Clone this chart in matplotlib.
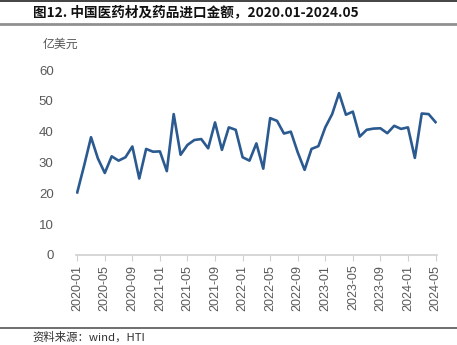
import matplotlib.pyplot as plt
from matplotlib.lines import Line2D

plt.rcParams['font.family'] = ['Noto Sans CJK SC', 'DejaVu Sans']

# 月份标签 2020-01 ... 2024-05
months = [f'{y}-{m:02d}' for y in range(2020, 2025) for m in range(1, 13)][:53]

# 进口金额（亿美元）
values = [20.3, 29.0, 38.2, 31.3, 26.6, 32.0, 30.6, 31.7, 35.2, 24.8,
          34.4, 33.5, 33.6, 27.2, 45.7, 32.5, 35.7, 37.3, 37.6, 34.6,
          43.0, 34.1, 41.4, 40.6, 31.7, 30.6, 36.2, 28.0, 44.4, 43.5,
          39.4, 40.0, 33.3, 27.6, 34.4, 35.3, 41.4, 45.7, 52.5, 45.5,
          46.5, 38.4, 40.6, 41.0, 41.1, 39.5, 41.9, 40.9, 41.4, 31.5,
          45.9, 45.7, 43.1]

tick_pos = list(range(0, 53, 4))
tick_labels = [months[i] for i in tick_pos]

fig = plt.figure(figsize=(4.57, 3.45), dpi=100)
ax = fig.add_axes([0.166, 0.261, 0.790, 0.536])

ax.plot(range(len(values)), values, color='#2b5a91', linewidth=1.9)

ax.set_xlim(-0.2, 52.2)
ax.set_ylim(0, 60)
ax.set_yticks(range(0, 61, 10))
ax.tick_params(axis='y', length=0, pad=16, labelsize=9.5, labelcolor='#595959')
ax.set_xticks(tick_pos)
ax.set_xticklabels(tick_labels, rotation=90, fontsize=9, color='#595959',
                   family=['Liberation Sans', 'DejaVu Sans'])
ax.tick_params(axis='x', length=4, color='#d0d0d0', pad=3)
for lbl in ax.get_yticklabels():
    lbl.set_family(['Liberation Sans', 'DejaVu Sans'])

for side in ['top', 'right', 'left']:
    ax.spines[side].set_visible(False)
ax.spines['bottom'].set_color('#d0d0d0')
ax.spines['bottom'].set_linewidth(1.2)

# 标题、单位、来源
fig.text(0.072, 0.965, '图12. 中国医药材及药品进口金额，2020.01-2024.05',
         fontsize=9.8, fontweight='bold', va='center', color='#111111')
fig.text(0.094, 0.873, '亿美元', fontsize=8.6, va='center', color='#555555')
fig.text(0.072, 0.022, '资料来源：wind，HTI', fontsize=8.2, va='center', color='#333333')

fig.add_artist(Line2D([0, 1], [0.998, 0.998], color='#222222', linewidth=1.2))
fig.add_artist(Line2D([0, 1], [0.930, 0.930], color='#909090', linewidth=2))
fig.add_artist(Line2D([0, 1], [0.050, 0.050], color='#555555', linewidth=1.2))

fig.savefig('out.png', dpi=100)
